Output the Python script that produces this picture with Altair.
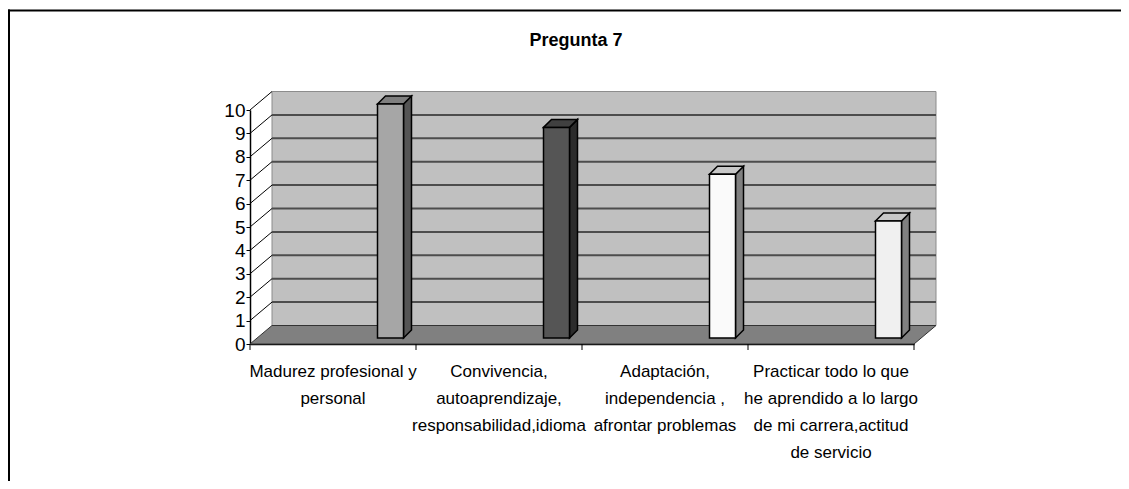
import altair as alt
import pandas as pd

# ---------------- data ----------------
TITLE = "Pregunta 7"
CATEGORIES = [
    "Madurez profesional y\npersonal",
    "Convivencia,\nautoaprendizaje,\nresponsabilidad,idioma",
    "Adaptación,\nindependencia ,\nafrontar problemas",
    "Practicar todo lo que\nhe aprendido a lo largo\nde mi carrera,actitud\nde servicio",
]
VALUES = [10, 9, 7, 5]
Y_TICKS = list(range(0, 11))

# ---------------- style ----------------
FRONT_COLORS = ["#A6A6A6", "#555555", "#FAFAFA", "#F0F0F0"]
SIDE_COLORS = ["#555555", "#2B2B2B", "#808080", "#808080"]
TOP_COLORS = ["#7F7F7F", "#404040", "#C8C8C8", "#C8C8C8"]
FONT = "Liberation Sans, Arial, sans-serif"

W, H = 664, 234
N = len(CATEGORIES)
YMAX = 10
PX_X = W / N          # px per x unit
PX_Y = H / YMAX       # px per y unit
WALL_DX, WALL_DY = 22, 18.5   # depth of the 3-D box (px)
BAR_SHIFT = 127.5             # bar front face left, px from band start
BAR_W = 26
BAR_LIFT = 6
BAR_D = 8

wdx, wdy = WALL_DX / PX_X, WALL_DY / PX_Y
bw, bl = BAR_W / PX_X, BAR_LIFT / PX_Y
bdx, bdy = BAR_D / PX_X, BAR_D / PX_Y

XS = alt.Scale(domain=[0, N], nice=False, zero=False)
YS = alt.Scale(domain=[0, YMAX], nice=False, zero=True)
Y_AXIS = alt.Axis(
    values=Y_TICKS, format="d", grid=False, domain=True, domainColor="black",
    domainWidth=1.5, ticks=True, tickColor="black", tickSize=4, tickWidth=1,
    labelFont=FONT, labelFontSize=19, labelColor="black", labelPadding=1, title=None,
)


def yq(field, stack=False):
    if stack:
        return alt.Y(field, scale=YS, axis=Y_AXIS, title=None, stack=None)
    return alt.Y(field, scale=YS, axis=Y_AXIS, title=None)


# ---------------- derived tables ----------------
front_rows, face_rows = [], []
for i, (v, fc, sc, tc) in enumerate(zip(VALUES, FRONT_COLORS, SIDE_COLORS, TOP_COLORS)):
    L = i + BAR_SHIFT / PX_X
    R = L + bw
    B = bl
    T = v + bl
    front_rows.append(dict(x=L, x2=R, y=B, y2=T, fill=fc))
    pid = f"side{i}"
    face_rows += [
        dict(pid=pid, x=R, y=T, y2=B, fill=sc),
        dict(pid=pid, x=R + bdx, y=T + bdy, y2=B + bdy, fill=sc),
    ]
    pid = f"top{i}"
    face_rows += [
        dict(pid=pid, x=L, y=T, y2=T, fill=tc),
        dict(pid=pid, x=L + bdx, y=T + bdy, y2=T, fill=tc),
        dict(pid=pid, x=R, y=T + bdy, y2=T, fill=tc),
        dict(pid=pid, x=R + bdx, y=T + bdy, y2=T + bdy, fill=tc),
    ]
front_df = pd.DataFrame(front_rows)
face_df = pd.DataFrame(face_rows)

floor_df = pd.DataFrame([
    dict(x=0, y=0, y2=0),
    dict(x=wdx, y=wdy, y2=0),
    dict(x=N, y=wdy, y2=0),
    dict(x=N + wdx, y=wdy, y2=wdy),
])
wall_df = pd.DataFrame([dict(x=wdx, x2=N + wdx, y=wdy, y2=YMAX + wdy)])
grid_df = pd.DataFrame([dict(x=wdx, x2=N + wdx, y=t + wdy) for t in Y_TICKS[1:-1]])
diag_df = pd.DataFrame([dict(x=0, x2=wdx, y=t, y2=t + wdy) for t in Y_TICKS[1:]])
xt_df = pd.DataFrame(dict(x=list(range(N + 1))))
cat_df = pd.DataFrame(dict(cat=CATEGORIES, value=VALUES))
one_df = pd.DataFrame(dict(t=[TITLE]))

# ---------------- layers ----------------
frame_top = alt.Chart(one_df).mark_rule(color="black", strokeWidth=2).encode(
    x=alt.value(-242), x2=alt.value(W + 600), y=alt.value(-99.5)
)
frame_left = alt.Chart(one_df).mark_rule(color="black", strokeWidth=2).encode(
    x=alt.value(-241), y=alt.value(-100.5), y2=alt.value(H + 600)
)

wall = alt.Chart(wall_df).mark_rect(fill="#C0C0C0", stroke="#8C8C8C", strokeWidth=1).encode(
    x=alt.X("x:Q", scale=XS, axis=None), x2="x2:Q",
    y=yq("y:Q"), y2="y2:Q",
)

grid = alt.Chart(grid_df).mark_rule(color="#4D4D4D", strokeWidth=2).encode(
    x=alt.X("x:Q", scale=XS, axis=None), x2="x2:Q",
    y=yq("y:Q"),
)

diag = alt.Chart(diag_df).mark_rule(color="black", strokeWidth=1).encode(
    x=alt.X("x:Q", scale=XS, axis=None), x2="x2:Q",
    y=yq("y:Q"), y2="y2:Q",
)

floor = alt.Chart(floor_df).mark_area(fill="#808080", stroke="#333333", strokeWidth=1).encode(
    x=alt.X("x:Q", scale=XS, axis=None),
    y=yq("y:Q", stack=True), y2="y2:Q",
)

axis_layer = alt.Chart(cat_df).mark_bar(opacity=0).encode(
    x=alt.X(
        "cat:N", sort=CATEGORIES, title=None,
        scale=alt.Scale(type="band", paddingInner=0, paddingOuter=0),
        axis=alt.Axis(
            orient="bottom", ticks=False, tickSize=0, domain=True, domainColor="black",
            domainWidth=1.5, labelAngle=0, labelAlign="center", labelBaseline="top",
            labelFont=FONT, labelFontSize=17, labelColor="black", labelLineHeight=27,
            labelPadding=19, labelLimit=400, labelOverlap=False, labelBound=False,
            labelExpr="split(datum.label, '\\n')", grid=False,
        ),
    ),
    y=yq("value:Q"),
)

faces = alt.Chart(face_df).mark_area(stroke="black", strokeWidth=1.5, strokeJoin="miter").encode(
    x=alt.X("x:Q", scale=XS, axis=None),
    y=yq("y:Q", stack=True), y2="y2:Q",
    fill=alt.Fill("fill:N", scale=None),
    detail="pid:N",
)

fronts = alt.Chart(front_df).mark_rect(stroke="black", strokeWidth=1.5).encode(
    x=alt.X("x:Q", scale=XS, axis=None), x2="x2:Q",
    y=yq("y:Q"), y2="y2:Q",
    fill=alt.Fill("fill:N", scale=None),
)

xticks = alt.Chart(xt_df).mark_rule(color="black", strokeWidth=1).encode(
    x=alt.X("x:Q", scale=XS, axis=None),
    y=alt.value(H), y2=alt.value(H + 6),
)

title = alt.Chart(one_df).mark_text(
    font=FONT, fontSize=18, fontWeight="bold", align="center", baseline="alphabetic", color="black"
).encode(text="t:N", x=alt.value(W / 2 - 6), y=alt.value(-64))

chart = (
    alt.layer(frame_top, frame_left, wall, grid, diag, floor, axis_layer, faces, fronts, xticks, title)
    .resolve_scale(x="independent")
    .properties(
        width=W, height=H,
        autosize=alt.AutoSizeParams(type="none"),
        padding={"left": 242, "top": 102, "right": 207, "bottom": 137},
        background="white",
    )
    .configure_view(strokeWidth=0)
)

chart.save("out.html", embed_options={"renderer": "svg", "actions": False})
